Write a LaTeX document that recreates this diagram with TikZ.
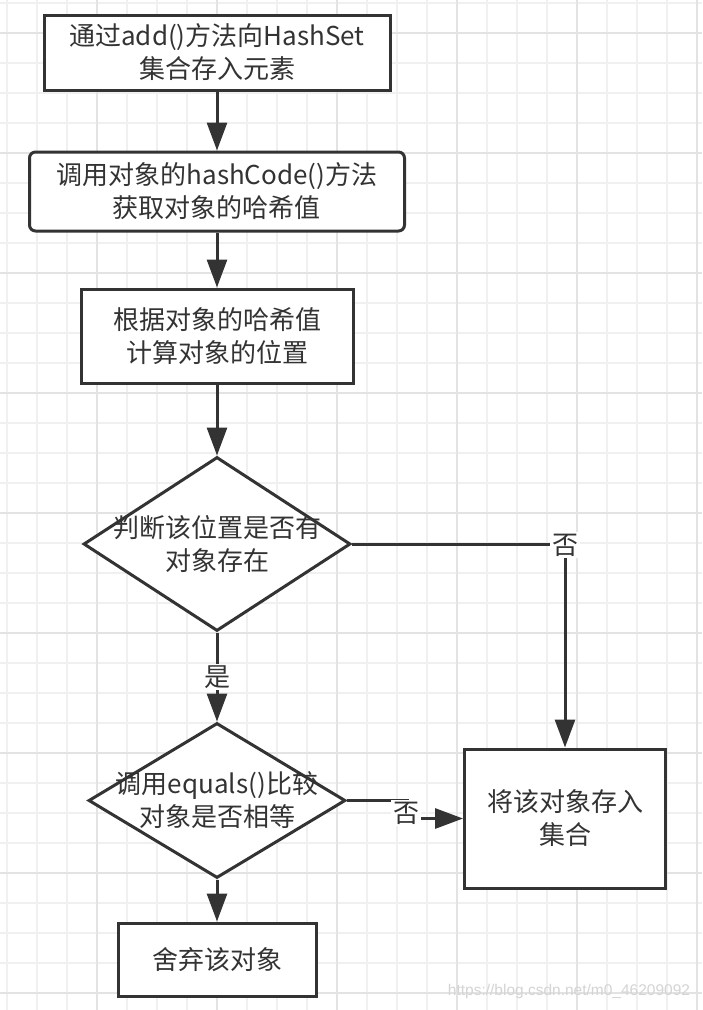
\documentclass[tikz,border=0pt]{standalone}
\usepackage{fontspec}
\newfontfamily\cjk{Noto Sans CJK SC}
\newfontfamily\wmfont{Liberation Sans}
\usetikzlibrary{arrows.meta,shapes.geometric}
\definecolor{ink}{HTML}{333333}
\definecolor{gridminor}{HTML}{F0F0F0}
\definecolor{gridmajor}{HTML}{E3E3E3}
\definecolor{wm}{HTML}{D4D4D4}
\begin{document}
\begin{tikzpicture}[x=1pt,y=-1pt,
  every node/.style={font=\cjk\fontsize{26}{33}\selectfont, text=ink},
  proc/.style={draw=ink, line width=3pt, fill=white, rectangle, align=center, inner sep=0pt},
  dec/.style={draw=ink, line width=3pt, fill=white, diamond, inner sep=0pt},
  conn/.style={draw=ink, line width=3pt, -{Triangle[length=28pt,width=20pt]}},
  lbl/.style={fill=white, inner sep=2pt},
  gmin/.style={draw=gridminor, line width=1.2pt},
  gmaj/.style={draw=gridmajor, line width=1.5pt}
]
\useasboundingbox (0,0) rectangle (702,1010);
\fill[white] (0,0) rectangle (702,1010);
% grid
\foreach \x in {7,37,...,697} \draw[gmin] (\x,0) -- (\x,1010);
\foreach \y in {3,33,...,1003} \draw[gmin] (0,\y) -- (702,\y);
\foreach \x in {97,217,...,697} \draw[gmaj] (\x,0) -- (\x,1010);
\foreach \y in {33,153,...,993} \draw[gmaj] (0,\y) -- (702,\y);

% nodes
\node[proc, minimum width=346pt, minimum height=75pt] (b1) at (217,52.5) {通过add()方法向HashSet\\集合存入元素};
\node[proc, rounded corners=6pt, minimum width=375pt, minimum height=79pt] (b2) at (217,191.5) {调用对象的hashCode()方法\\获取对象的哈希值};
\node[proc, minimum width=272pt, minimum height=94pt] (b3) at (217,336) {根据对象的哈希值\\计算对象的位置};
\node[dec, minimum width=267pt, minimum height=174pt,
      label={[align=center]center:判断该位置是否有\\对象存在}] (d1) at (217,544) {};
\node[dec, minimum width=257pt, minimum height=155pt,
      label={[align=center]center:调用equals()比较\\对象是否相等}] (d2) at (217,800.5) {};
\node[proc, minimum width=201pt, minimum height=139pt] (b4) at (565,818.5) {将该对象存入\\集合};
\node[proc, minimum width=198pt, minimum height=73pt] (b5) at (217,959.5) {舍弃该对象};

% connectors
\draw[conn] (b1) -- (b2);
\draw[conn] (b2) -- (b3);
\draw[conn] (b3) -- (d1);
\coordinate (c1) at (b4.north |- d1.east);
\draw[conn] (d1.east) -- (c1) -- (b4.north);
\node[lbl] (no1) at (565,545) {否};
\draw[conn] (d1.south) -- node[lbl] (yes) {是} (d2.north);
\draw[conn] (d2.east) -- ++(60,0) coordinate (j1) |- (b4.west);
\node[lbl] (no2) at (406,813) {否};
\draw[conn] (d2.south) -- (b5.north);

% watermark
\node[font=\wmfont\fontsize{15.5}{18}\selectfont, text=wm, inner sep=0pt] (wmk) at (569,991) {https://blog.csdn.net/m0\_46209092};
\end{tikzpicture}
\end{document}
